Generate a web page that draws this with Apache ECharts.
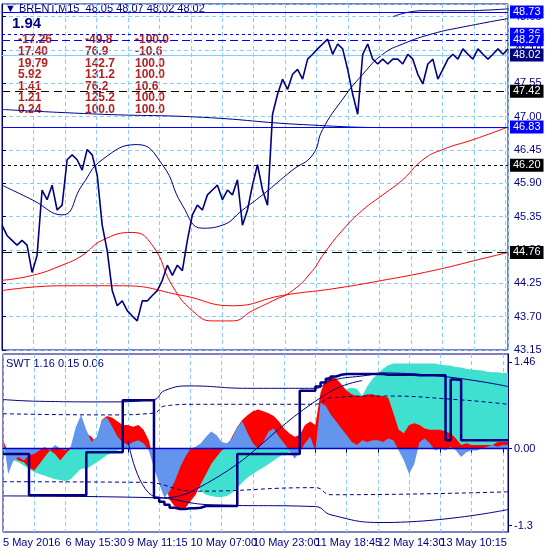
<!DOCTYPE html>
<html>
<head>
<meta charset="utf-8">
<script src="https://cdn.jsdelivr.net/npm/echarts@6/dist/echarts.min.js"></script>
<style>html,body{margin:0;padding:0;background:#fff}#chart{width:550px;height:550px}</style>
</head>
<body>
<div id="chart"></div>
<script>
// 价格 (M15收盘)
var price=[45.21,45.04,44.96,44.88,44.96,44.88,44.43,44.71,45.79,45.63,45.87,45.46,45.54,46.29,46.37,46.29,46.12,46.46,46.37,46.04,
45.21,44.79,44.13,43.88,43.96,43.80,43.71,43.63,43.96,43.96,44.05,44.13,44.30,44.55,44.38,44.55,44.46,44.96,45.38,45.54,
45.46,45.71,45.79,45.87,45.63,45.79,45.71,45.96,45.21,45.46,45.87,46.21,45.79,45.54,47.04,47.37,47.62,47.45,47.70,47.78,
47.62,47.95,48.03,48.12,48.20,48.28,48.03,48.20,48.12,47.78,47.37,47.04,48.03,48.20,47.95,47.87,47.95,47.87,47.95,47.95,
47.87,48.03,47.95,47.70,47.54,47.87,47.95,47.62,47.78,47.95,48.03,47.95,48.12,48.03,47.95,48.12,48.03,47.95,48.03,48.12,48.03,48.12];
var bandUpper=[[0,45.87],[6,45.63],[12,45.38],[16,45.87],[20,46.29],[27,46.54],[32,46.21],[36,45.54],[40,45.16],[44,45.21],[48,45.46],[52,45.71],[58,46.12],[62,46.37],[64,46.79],[68,47.29],[72,47.70],[76,48.03],[80,48.20],[86,48.37],[92,48.48],[101,48.62]];
var bandTop=[[78,48.65],[84,48.75],[92,48.75],[101,48.78]];
var maLong=[[0,47.12],[20,47.04],[40,46.99],[60,46.87],[80,46.82],[101,46.82]];
var redFast=[[0,44.30],[6,44.38],[12,44.55],[16,44.71],[20,44.96],[26,45.09],[30,44.88],[34,44.21],[38,43.80],[42,43.63],[46,43.63],[50,43.80],[54,43.96],[58,44.13],[62,44.46],[64,44.71],[68,45.13],[72,45.46],[76,45.71],[80,45.96],[84,46.29],[88,46.46],[94,46.62],[101,46.83]];
var redSlow=[[0,44.13],[12,44.21],[24,44.21],[36,44.05],[46,43.88],[56,44.05],[66,44.16],[76,44.30],[86,44.46],[96,44.66],[101,44.76]];
var levels=[
  {v:48.73,c:'#0000ff',t:'solid',bg:'#0000ff'},
  {v:48.36,c:'#0000ff',t:[3,3],bg:'#0000ff'},
  {v:48.27,c:'#0000ff',t:[8,4],bg:'#0000ff'},
  {v:48.02,c:'#87cefa',t:'solid',bg:'#000080'},
  {v:47.42,c:'#000000',t:[8,5],bg:'#000000'},
  {v:46.83,c:'#0000ff',t:'solid',bg:'#0000ff'},
  {v:46.20,c:'#000000',t:[3,3],bg:'#000000'},
  {v:44.76,c:'#000000',t:[10,5],bg:'#000000'}
];
// SWT 指标
var timeLabels=['5 May 2016','6 May 15:30','9 May 11:15','10 May 07:00','10 May 23:00','11 May 18:45','12 May 14:30','13 May 10:15'];
var osc=[0.20,-0.43,-0.20,-0.14,-0.20,-0.11,-0.09,-0.03,0.03,-0.03,0.06,0,-0.03,0.03,0.37,0.57,0.32,0.11,0.20,0.49,
0.52,0.37,0.20,0.11,0.06,0.11,0.14,0.09,-0.03,-0.32,-0.60,-0.83,-0.72,-0.55,-0.32,-0.14,0,0.03,0.09,0.20,
0.29,0.23,0.11,0.09,0.17,0.37,0.46,0.26,0.09,0,0.11,0.29,0.34,0.20,0.09,-0.03,-0.17,-0.06,0.09,0.20,
-0.03,0.78,0.72,0.57,0.46,0.34,0.23,0.11,0.06,0.14,0.11,0.14,0.14,0.11,0.17,0.14,-0.03,-0.20,-0.43,-0.26,
0.11,0.17,0.09,-0.03,0,-0.03,0.03,-0.03,-0.14,-0.06,-0.03,-0.03,0,0.03,0.06,0.03,0.06,0.06];
var redLine=[0.14,-0.06,-0.14,-0.20,-0.23,-0.32,-0.37,-0.26,-0.14,-0.03,-0.09,-0.20,-0.09,0,0.09,0.20,0.26,0.20,0.09,0.49,
0.55,0.52,0.46,0.40,0.40,0.37,0.40,0.32,0.14,-0.20,-0.49,-0.55,-0.86,-0.98,-1.03,-1.01,-0.89,-0.78,-0.60,-0.43,
-0.26,-0.14,-0.03,0.03,0.20,0.37,0.49,0.57,0.63,0.66,0.63,0.60,0.55,0.46,0.34,0.26,0.20,0.23,0.40,0.46,
0.40,0.95,1.18,1.24,1.18,1.09,0.98,0.92,0.89,0.89,0.92,0.92,0.89,0.89,0.86,0.60,0.32,0.26,0.40,0.43,
0.40,0.34,0.32,0.32,0.32,0.29,0.26,0.17,0.06,0.09,0.06,0.06,0.06,0.06,0.06,0.11,0.11,0.11];
var tealLine=[-0.03,-0.14,-0.20,-0.23,-0.29,-0.34,-0.40,-0.43,-0.46,-0.49,-0.52,-0.53,-0.55,-0.52,-0.43,-0.34,-0.34,-0.29,-0.23,-0.17,
-0.11,-0.06,-0.03,0,0,0,0,0,0,0,0,0,0,0,0,0,-0.49,-0.60,-0.72,-0.78,
-0.80,-0.82,-0.82,-0.80,-0.75,-0.66,-0.57,-0.49,-0.43,-0.37,-0.32,-0.26,-0.20,-0.14,-0.09,-0.06,-0.03,0,0,0,
0,0.55,0.78,0.89,0.95,0.98,1.01,1.03,1.01,0.89,1.06,1.18,1.26,1.35,1.41,1.44,1.44,1.44,1.44,1.44,
1.44,1.44,1.44,1.44,1.42,1.41,1.40,1.38,1.37,1.35,1.34,1.33,1.32,1.30,1.29,1.29,1.28,1.28];
var stepLine=[-0.09,-0.09,-0.09,-0.09,-0.09,-0.09,-0.79,-0.79,-0.79,-0.79,-0.79,-0.79,-0.79,-0.79,-0.79,-0.79,-0.79,-0.06,-0.06,-0.06,
-0.06,-0.06,-0.06,-0.06,0.82,0.82,0.82,0.82,0.82,0.82,-0.83,-0.90,-0.95,-1.00,-1.02,-1.02,-1.01,-1.01,-1.00,-0.97,
-0.97,-0.97,-0.97,-0.97,-0.97,-0.97,-0.09,-0.09,-0.09,-0.09,-0.09,-0.09,-0.09,-0.09,-0.09,-0.09,-0.09,-0.09,0.98,0.98,
0.98,1.05,1.12,1.18,1.22,1.25,1.26,1.26,1.26,1.26,1.26,1.26,1.26,1.26,1.25,1.25,1.25,1.25,1.25,1.25,
1.24,1.24,1.24,1.24,1.24,1.24,0.14,1.17,1.16,0.14,0.14,0.14,0.14,0.14,0.14,0.14,0.14,0.14];
var envUp=[[0,0.83],[7,0.80],[20,0.79],[29,0.83],[31,0.98],[36,1.06],[47,1.02],[60,1.02],[63,1.15],[70,1.24],[73,1.28],[97,1.05]];
var envUpDash=[[0,0.59],[20,0.57],[29,0.60],[31,0.72],[37,0.75],[60,0.75],[63,0.86],[73,0.89],[87,0.83],[97,0.75]];
var envLoDash=[[0,-0.56],[27,-0.57],[37,-0.72],[60,-0.66],[63,-0.78],[97,-0.73]];
var envLo=[[0,-0.80],[29,-0.83],[40,-0.95],[60,-0.98],[63,-1.12],[73,-1.25],[97,-1.03]];
var signal=[[24,0.14],[30,-0.83],[37,-0.69],[62,0.92],[69,1.15]];

var bottomCats=osc.map(function(v,i){return String(i);});
var navy='#000080';
var gridDash={show:true,lineStyle:{color:'#87cefa',type:[4,3]}};
var fnt='Liberation Sans';
var chart=echarts.init(document.getElementById('chart'));

var lineS=function(name,data,color,w,type){
  return {name:name,type:'line',xAxisIndex:0,yAxisIndex:0,data:data,symbol:'none',smooth:true,
    lineStyle:{color:color,width:w,type:type||'solid'},z:3,silent:true};
};
var bLine=function(data,color,w,type){
  return {type:'line',xAxisIndex:1,yAxisIndex:1,data:data,symbol:'none',smooth:true,
    lineStyle:{color:color,width:w,type:type||'solid'},z:6,silent:true};
};
var bArea=function(data,color,z){
  return {type:'line',xAxisIndex:1,yAxisIndex:1,data:data,symbol:'none',
    lineStyle:{width:0},areaStyle:{color:color,opacity:1,origin:0},z:z,silent:true};
};

chart.setOption({
  animation:false,
  backgroundColor:'#fff',
  grid:[
    {left:2,right:42,top:4,height:346,show:true,borderColor:navy,borderWidth:1},
    {left:2,right:42,top:354,height:178,show:true,borderColor:navy,borderWidth:1}
  ],
  xAxis:[
    {gridIndex:0,type:'value',min:0,max:101,interval:6.28,axisLabel:{show:false},axisTick:{show:false},
      axisLine:{show:false},splitLine:gridDash},
    {gridIndex:1,type:'category',data:bottomCats,boundaryGap:false,
      axisLine:{lineStyle:{color:navy}},
      axisTick:{interval:5,length:4,lineStyle:{color:navy}},
      splitLine:{show:true,interval:5,lineStyle:{color:'#87cefa',type:[4,3]}},
      axisLabel:{interval:11,hideOverlap:false,color:navy,fontFamily:fnt,fontSize:11,align:'left',margin:5,
        formatter:function(v){return timeLabels[Math.round(Number(v)/12)]||'';}}}
  ],
  yAxis:[
    {gridIndex:0,type:'value',position:'right',min:43.15,max:48.86,interval:0.55,
      axisLine:{show:true,lineStyle:{color:navy}},axisTick:{show:true,length:4,lineStyle:{color:navy}},
      axisLabel:{color:navy,fontFamily:fnt,fontSize:11,margin:6,showMaxLabel:false,
        formatter:function(v){return v.toFixed(2);}},splitLine:gridDash},
    {gridIndex:1,type:'value',position:'right',min:-1.41,max:1.60,
      axisLine:{show:true,lineStyle:{color:navy}},
      axisTick:{show:true,length:4,customValues:[-1.3,0,1.46],lineStyle:{color:navy}},
      axisLabel:{color:navy,fontFamily:fnt,fontSize:11,margin:6,customValues:[-1.3,0,1.46],
        formatter:function(v){return v===0?'0.00':String(v);}},
      splitLine:{show:false}}
  ],
  series:[
    lineS('maLong',maLong,navy,1),
    lineS('bandUpper',bandUpper,navy,1),
    lineS('bandTop',bandTop,navy,1),
    lineS('redFast',redFast,'#ff0000',1),
    lineS('redSlow',redSlow,'#ff0000',1),
    {name:'BRENT',type:'line',xAxisIndex:0,yAxisIndex:0,symbol:'none',z:5,silent:true,
      data:price.map(function(v,i){return [i,v];}),lineStyle:{color:navy,width:1.6},
      markLine:{symbol:'none',silent:true,
        data:levels.map(function(l){
          return {yAxis:l.v,lineStyle:{color:l.c,type:l.t,width:1},
            label:{show:true,position:'end',distance:2,formatter:l.v.toFixed(2),color:'#fff',
              backgroundColor:l.bg,padding:[1,3],fontFamily:fnt,fontSize:11}};
        })}},
    bArea(tealLine,'#40e0d0',2),
    bArea(redLine,'#ff0000',3),
    bArea(osc,'#6495ed',4),
    {type:'line',xAxisIndex:1,yAxisIndex:1,data:osc.map(function(){return 0;}),symbol:'none',
      lineStyle:{color:'#0000cd',width:1.5},z:5,silent:true},
    bLine(envUp,navy,1),
    bLine(envUpDash,navy,1,[4,3]),
    bLine(envLoDash,navy,1,[4,3]),
    bLine(envLo,navy,1),
    bLine(signal,navy,1),
    {type:'line',xAxisIndex:1,yAxisIndex:1,data:stepLine,symbol:'none',step:'start',
      lineStyle:{color:navy,width:2.5},z:7,silent:true}
  ],
  graphic:[
    {type:'text',left:5,top:3,style:{text:'▼ BRENT,M15  48.05 48.07 48.02 48.02',fill:navy,font:'11px "Liberation Sans"'}},
    {type:'text',left:12,top:16,style:{text:'1.94',fill:navy,font:'bold 15px "Liberation Sans"'}},
    {type:'text',left:18,top:34,style:{text:'-17.26\n17.40\n19.79\n5.92\n1.41\n1.21\n0.24',fill:'#b22222',font:'bold 12px "Liberation Sans"',lineHeight:11.6}},
    {type:'text',left:85,top:34,style:{text:'-49.8\n76.9\n142.7\n131.2\n76.2\n125.2\n100.0',fill:'#b22222',font:'bold 12px "Liberation Sans"',lineHeight:11.6}},
    {type:'text',left:135,top:34,style:{text:'-100.0\n-10.6\n100.0\n100.0\n10.6\n100.0\n100.0',fill:'#b22222',font:'bold 12px "Liberation Sans"',lineHeight:11.6}},
    {type:'text',left:6,top:358,style:{text:'SWT 1.16 0.15 0.06',fill:navy,font:'11px "Liberation Sans"'}}
  ]
});
</script>
</body>
</html>
